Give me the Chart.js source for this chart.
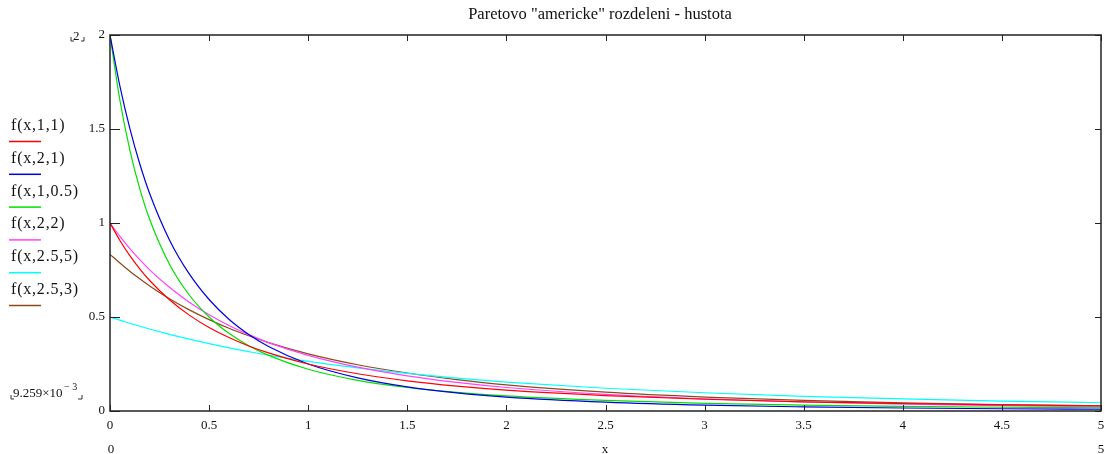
<!DOCTYPE html>
<html>
<head>
<meta charset="utf-8">
<script src="https://cdn.jsdelivr.net/npm/chart.js@4/dist/chart.umd.min.js"></script>
<style>
  html, body { margin: 0; padding: 0; background: #fff; }
  #wrap { width: 1105px; height: 454px; position: relative; }
</style>
</head>
<body>
<div id="wrap"><canvas id="chartPareto"></canvas></div>
<script>
// hodnoty
const xValues = [0, 0.05, 0.1, 0.15, 0.2, 0.3, 0.4, 0.5, 0.6, 0.7, 0.8, 1, 1.25, 1.5, 1.75, 2, 2.5, 3, 3.5, 4, 4.5, 5];
const f_1_1   = [1, 0.907, 0.826, 0.756, 0.694, 0.592, 0.510, 0.444, 0.391, 0.346, 0.309, 0.25, 0.198, 0.16, 0.132, 0.111, 0.082, 0.0625, 0.049, 0.04, 0.033, 0.028];
const f_2_1   = [2, 1.728, 1.503, 1.315, 1.157, 0.910, 0.729, 0.593, 0.488, 0.407, 0.343, 0.25, 0.176, 0.128, 0.096, 0.074, 0.047, 0.031, 0.022, 0.016, 0.012, 0.0093];
const f_1_05  = [2, 1.653, 1.389, 1.183, 1.020, 0.781, 0.617, 0.5, 0.413, 0.347, 0.296, 0.222, 0.163, 0.125, 0.099, 0.08, 0.056, 0.041, 0.031, 0.025, 0.020, 0.017];
const f_2_2   = [1, 0.929, 0.864, 0.805, 0.751, 0.658, 0.579, 0.512, 0.455, 0.406, 0.364, 0.296, 0.233, 0.187, 0.152, 0.125, 0.088, 0.064, 0.048, 0.037, 0.029, 0.023];
const f_25_5  = [0.5, 0.483, 0.467, 0.451, 0.436, 0.408, 0.382, 0.358, 0.336, 0.316, 0.297, 0.264, 0.229, 0.200, 0.175, 0.154, 0.121, 0.097, 0.078, 0.064, 0.053, 0.044];
const f_25_3  = [0.833, 0.787, 0.743, 0.703, 0.665, 0.597, 0.538, 0.486, 0.440, 0.400, 0.364, 0.304, 0.246, 0.202, 0.167, 0.139, 0.100, 0.074, 0.056, 0.043, 0.034, 0.027];

const seriesLabels = ['f(x,1,1)', 'f(x,2,1)', 'f(x,1,0.5)', 'f(x,2,2)', 'f(x,2.5,5)', 'f(x,2.5,3)'];
const seriesData = [f_1_1, f_2_1, f_1_05, f_2_2, f_25_5, f_25_3];
const seriesColors = ['#ff0000', '#0000e0', '#00e000', '#ff40ff', '#00ffff', '#8b4a1a'];

const titleText = 'Paretovo "americke" rozdeleni - hustota';
const serif = '"Liberation Serif", "DejaVu Serif", serif';

// ramecek, vnitrni znacky, titulek, legenda a popisky jako v Mathcadu
const mathcadPlugin = {
    id: 'mathcad',
    afterDraw(chart) {
        const { ctx, chartArea: a, scales: { x, y } } = chart;
        ctx.save();
        ctx.strokeStyle = '#222';
        ctx.lineWidth = 1.5;
        ctx.strokeRect(a.left, a.top, a.right - a.left, a.bottom - a.top);

        ctx.lineWidth = 1;
        ctx.beginPath();
        x.ticks.forEach(t => {
            const px = Math.round(x.getPixelForValue(t.value)) + 0.5;
            ctx.moveTo(px, a.top); ctx.lineTo(px, a.top + 6);
            ctx.moveTo(px, a.bottom); ctx.lineTo(px, a.bottom - 6);
        });
        y.ticks.forEach(t => {
            const py = Math.round(y.getPixelForValue(t.value)) + 0.5;
            ctx.moveTo(a.left, py); ctx.lineTo(a.left + 10, py);
            ctx.moveTo(a.right, py); ctx.lineTo(a.right - 6, py);
        });
        ctx.stroke();

        // titulek
        ctx.fillStyle = '#111';
        ctx.font = '16.5px ' + serif;
        ctx.textAlign = 'center';
        ctx.textBaseline = 'middle';
        ctx.fillText(titleText, 600, 15);

        // legenda vlevo
        ctx.textAlign = 'left';
        ctx.textBaseline = 'alphabetic';
        ctx.font = '16px ' + serif;
        ctx.letterSpacing = '0.8px';
        seriesLabels.forEach((lab, i) => {
            const ty = 130 + i * 32.8;
            ctx.fillStyle = '#111';
            ctx.fillText(lab, 11, ty);
            ctx.strokeStyle = seriesColors[i];
            ctx.lineWidth = 1.5;
            ctx.beginPath();
            ctx.moveTo(9, ty + 11.5); ctx.lineTo(41, ty + 11.5);
            ctx.stroke();
        });
        ctx.letterSpacing = '0px';

        // meze os
        ctx.fillStyle = '#111';
        ctx.font = '13px ' + serif;
        ctx.fillText('2', 73, 40);
        ctx.fillText('9.259\u00d710', 13, 397);
        ctx.font = '10px ' + serif;
        ctx.fillText('\u2212 3', 64, 390);
        ctx.strokeStyle = '#333';
        ctx.lineWidth = 1;
        ctx.beginPath();
        ctx.moveTo(71, 37); ctx.lineTo(71, 41); ctx.lineTo(74, 41);
        ctx.moveTo(81, 41); ctx.lineTo(84, 41); ctx.lineTo(84, 37);
        ctx.moveTo(11, 395); ctx.lineTo(11, 399); ctx.lineTo(14, 399);
        ctx.moveTo(78, 399); ctx.lineTo(82, 399); ctx.lineTo(82, 395);
        ctx.stroke();

        ctx.font = '13px ' + serif;
        ctx.textAlign = 'center';
        ctx.fillText('0', a.left + 1, 453);
        ctx.fillText('x', 605, 453);
        ctx.fillText('5', a.right, 453);
        ctx.restore();
    }
};

const datasets = seriesLabels.map((lab, i) => ({
    label: lab,
    data: xValues.map((xv, j) => ({ x: xv, y: seriesData[i][j] })),
    borderColor: seriesColors[i],
    borderWidth: 1.2,
    pointRadius: 0,
    showLine: true,
    fill: false,
    cubicInterpolationMode: 'monotone'
}));

const plainNumber = v => String(Number(v.toFixed(2)));

new Chart(document.getElementById('chartPareto'), {
    type: 'scatter',
    data: { datasets },
    options: {
        responsive: true,
        maintainAspectRatio: false,
        animation: false,
        layout: { padding: { left: 10, top: 35, right: 4, bottom: 0 } },
        plugins: {
            legend: { display: false },
            title: { display: false },
            tooltip: { enabled: false }
        },
        scales: {
            x: {
                type: 'linear',
                min: 0,
                max: 5,
                grid: { display: false, drawTicks: false },
                border: { display: false },
                ticks: { stepSize: 0.5, padding: 7, color: '#111', font: { family: serif, size: 13 }, maxRotation: 0, callback: plainNumber },
                afterFit: s => { s.height = 43; s.paddingLeft = 0; s.paddingRight = 0; }
            },
            y: {
                min: 0,
                max: 2,
                grid: { display: false, drawTicks: false },
                border: { display: false },
                ticks: { stepSize: 0.5, padding: 5, color: '#111', font: { family: serif, size: 13 }, callback: plainNumber },
                afterFit: s => { s.width = 100; s.paddingTop = 0; s.paddingBottom = 0; }
            }
        }
    },
    plugins: [mathcadPlugin]
});
</script>
</body>
</html>
